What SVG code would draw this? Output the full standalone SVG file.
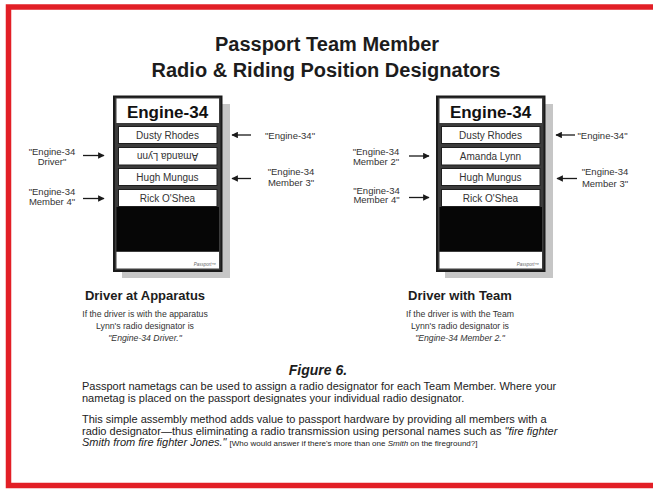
<svg xmlns="http://www.w3.org/2000/svg" width="653" height="489" viewBox="0 0 653 489">
  <style>
    text { font-family: "Liberation Sans", Arial, Helvetica, sans-serif; fill: #1c1c1c; }
    .title { font-size: 20px; font-weight: bold; text-anchor: middle; }
    .head { font-size: 17px; font-weight: bold; text-anchor: middle; fill: #111; }
    .name { font-size: 10px; text-anchor: middle; fill: #333; }
    .lbl { font-size: 9.5px; text-anchor: middle; fill: #333; }
    .cap { font-size: 13px; font-weight: bold; text-anchor: middle; }
    .sub { font-size: 8.7px; text-anchor: middle; fill: #333; }
    .fig { font-size: 14px; font-weight: bold; font-style: italic; text-anchor: middle; }
    .para { font-size: 11px; fill: #222; }
    .small { font-size: 8px; }
    .it { font-style: italic; }
    .tm { font-size: 4.5px; font-style: italic; text-anchor: end; fill: #666; }
    .shadow { fill: #c6c6c6; }
    .body { fill: #3c3c3c; stroke: #1a1a1a; stroke-width: 2; }
    .white { fill: #ffffff; }
    .row { fill: #ffffff; stroke: #1e1e1e; stroke-width: 1; }
    .black { fill: #060606; }
    .arrow { stroke: #1a1a1a; stroke-width: 1.3; fill: none; marker-end: url(#head); }
  </style>
  <defs>
    <marker id="head" viewBox="0 0 10 10" refX="9" refY="5" markerWidth="5" markerHeight="5" markerUnits="strokeWidth" orient="auto">
      <path d="M0,0 L10,5 L0,10 z" fill="#1a1a1a"/>
    </marker>
    <!-- passport card: shadow, body, header, four nametag slots, black panel, footer -->
    <g id="card">
      <rect class="shadow" x="122" y="104" width="108" height="174"/>
      <rect class="body" x="114" y="96.5" width="107.5" height="174.5"/>
      <rect class="white" x="116.5" y="98.5" width="102.5" height="24.5"/>
      <rect class="row" x="118.5" y="126.5" width="98.5" height="17"/>
      <rect class="row" x="118.5" y="147.5" width="98.5" height="17.5"/>
      <rect class="row" x="118.5" y="168.5" width="98.5" height="17"/>
      <rect class="row" x="118.5" y="189.5" width="98.5" height="17"/>
      <rect class="black" x="116.5" y="207" width="102.5" height="44"/>
      <rect class="white" x="116.5" y="252" width="102.5" height="16.5"/>
      <text class="tm" x="216" y="265.5">Passport™</text>
    </g>
  </defs>

  <!-- frame -->
  <rect x="8.5" y="7" width="700" height="478.5" fill="#ffffff" stroke="#e21f26" stroke-width="5.5"/>

  <!-- heading -->
  <g id="heading">
    <text class="title" x="327" y="51">Passport Team Member</text>
    <text class="title" x="326" y="77">Radio &amp; Riding Position Designators</text>
  </g>

  <!-- left passport: driver at apparatus -->
  <g id="passport-left">
    <use href="#card"/>
    <text class="head" x="167.5" y="117.5">Engine-34</text>
    <text class="name" x="167.5" y="139">Dusty Rhodes</text>
    <text class="name" x="167.5" y="160" transform="rotate(180 167.5 156.5)">Amanda Lynn</text>
    <text class="name" x="167.5" y="181">Hugh Mungus</text>
    <text class="name" x="167.5" y="202">Rick O'Shea</text>
  </g>

  <!-- right passport: driver with team -->
  <g id="passport-right">
    <use href="#card" transform="translate(323 0)"/>
    <text class="head" x="490.5" y="117.5">Engine-34</text>
    <text class="name" x="490.5" y="139">Dusty Rhodes</text>
    <text class="name" x="490.5" y="160">Amanda Lynn</text>
    <text class="name" x="490.5" y="181">Hugh Mungus</text>
    <text class="name" x="490.5" y="202">Rick O'Shea</text>
  </g>

  <!-- designator labels -->
  <g id="label-l-driver">
    <text class="lbl" x="52" y="155"><tspan x="52">"Engine-34</tspan><tspan x="52" dy="10">Driver"</tspan></text>
  </g>
  <g id="label-l-member4">
    <text class="lbl" x="52" y="195"><tspan x="52">"Engine-34</tspan><tspan x="52" dy="9.5">Member 4"</tspan></text>
  </g>
  <g id="label-l-engine">
    <text class="lbl" x="290" y="138.5">"Engine-34"</text>
  </g>
  <g id="label-l-member3">
    <text class="lbl" x="291" y="175"><tspan x="291">"Engine-34</tspan><tspan x="291" dy="11">Member 3"</tspan></text>
  </g>
  <g id="label-r-member2">
    <text class="lbl" x="376" y="155"><tspan x="376">"Engine-34</tspan><tspan x="376" dy="10">Member 2"</tspan></text>
  </g>
  <g id="label-r-member4">
    <text class="lbl" x="376.5" y="193.5"><tspan x="376.5">"Engine-34</tspan><tspan x="376.5" dy="9.5">Member 4"</tspan></text>
  </g>
  <g id="label-r-engine">
    <text class="lbl" x="602.5" y="138.5">"Engine-34"</text>
  </g>
  <g id="label-r-member3">
    <text class="lbl" x="605" y="175"><tspan x="605">"Engine-34</tspan><tspan x="605" dy="12">Member 3"</tspan></text>
  </g>

  <!-- pointers -->
  <g id="connectors">
    <line class="arrow" x1="83" y1="155.5" x2="104" y2="155.5"/>
    <line class="arrow" x1="83" y1="198.5" x2="104" y2="198.5"/>
    <line class="arrow" x1="251" y1="135" x2="232" y2="135"/>
    <line class="arrow" x1="251" y1="178.5" x2="232" y2="178.5"/>
    <line class="arrow" x1="409" y1="156" x2="429" y2="156"/>
    <line class="arrow" x1="409" y1="197.5" x2="429" y2="197.5"/>
    <line class="arrow" x1="575" y1="135" x2="556" y2="135"/>
    <line class="arrow" x1="577" y1="178.5" x2="557" y2="178.5"/>
  </g>

  <!-- captions -->
  <g id="caption-left">
    <text class="cap" x="145" y="300">Driver at Apparatus</text>
    <text class="sub" x="145" y="316.5">If the driver is with the apparatus</text>
    <text class="sub" x="145" y="328.5">Lynn's radio designator is</text>
    <text class="sub it" x="145" y="340.5">"Engine-34 Driver."</text>
  </g>
  <g id="caption-right">
    <text class="cap" x="460" y="300">Driver with Team</text>
    <text class="sub" x="460" y="316.5">If the driver is with the Team</text>
    <text class="sub" x="460" y="328.5">Lynn's radio designator is</text>
    <text class="sub it" x="460" y="340.5">"Engine-34 Member 2."</text>
  </g>

  <!-- figure note -->
  <g id="figure-note">
    <text class="fig" x="318" y="375">Figure 6.</text>
    <text class="para" x="82" y="389.5">Passport nametags can be used to assign a radio designator for each Team Member. Where your</text>
    <text class="para" x="82" y="401.5">nametag is placed on the passport designates your individual radio designator.</text>
    <text class="para" x="82" y="422.5">This simple assembly method adds value to passport hardware by providing all members with a</text>
    <text class="para" x="82" y="434.5">radio designator—thus eliminating a radio transmission using personal names such as <tspan class="it">"fire fighter</tspan></text>
    <text class="para" x="82" y="446"><tspan class="it">Smith from fire fighter Jones."</tspan>  <tspan class="small">[Who would answer if there's more than one <tspan class="it">Smith</tspan> on the fireground?]</tspan></text>
  </g>
</svg>
